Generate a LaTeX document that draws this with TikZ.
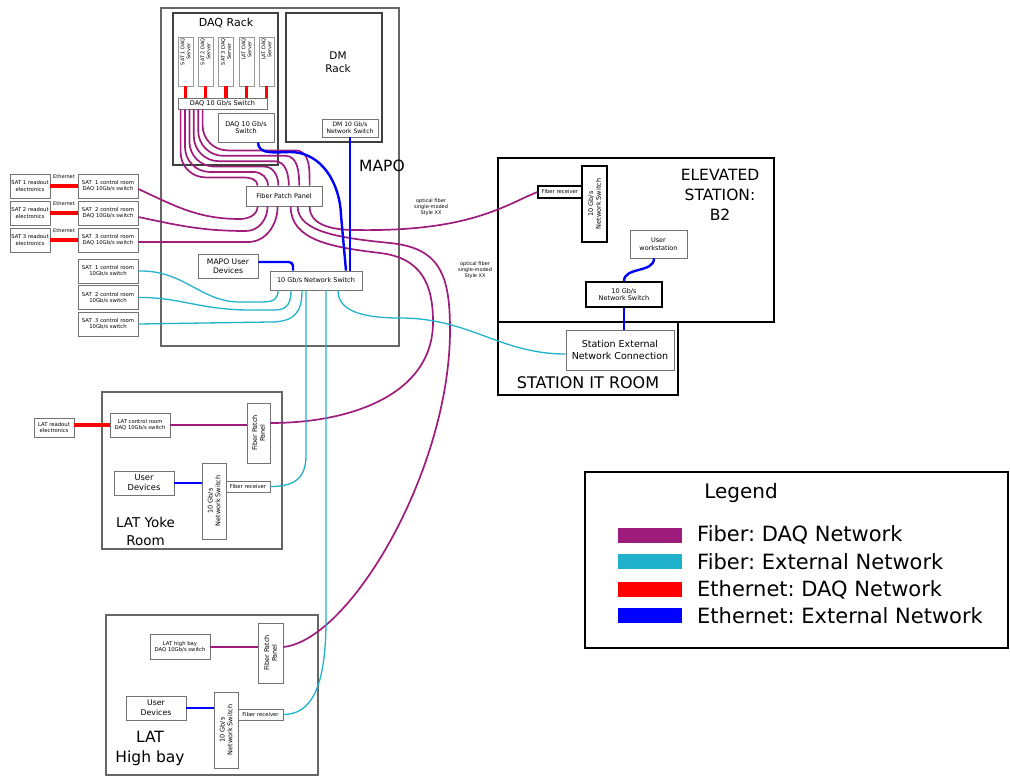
\documentclass[tikz,border=0pt]{standalone}
\usepackage{fontspec}
\setmainfont{DejaVu Sans}
\frenchspacing
\definecolor{fibdaqcol}{RGB}{158,28,124}
\definecolor{fibextcol}{RGB}{32,178,202}
\tikzset{
  room/.style={draw=black!60, line width=1.8pt},
  rack/.style={draw=black!75, line width=1.3pt},
  box/.style={draw=black!55, line width=0.8pt, fill=white, align=center, inner sep=0.5pt},
  kbox/.style={box, draw=black, line width=1.5pt},
  srv/.style={draw=black!40, line width=0.7pt, fill=white, minimum width=15, minimum height=49},
  fibdaq/.style={fibdaqcol, line width=1.7pt},
  fibext/.style={fibextcol, line width=1.3pt},
  ethdaq/.style={red, line width=3.2pt},
  ethext/.style={blue, line width=2.4pt},
  fxs/.style={font=\fontsize{5}{5.9}\selectfont},
  fs/.style={font=\fontsize{5.3}{6.4}\selectfont},
  fm/.style={font=\fontsize{6.5}{7.8}\selectfont},
}
\begin{document}
\begin{tikzpicture}[x=1pt, y=1pt]
  \useasboundingbox (0,0) rectangle (1010,-777);

  % MAPO -- racks and switches
  \draw[room] (161,-8) rectangle (399,-346);
  \draw[rack] (173,-13) rectangle (278,-165);
  \draw[rack] (286,-13) rectangle (382,-142);
  \node[font=\fontsize{11}{13}\selectfont] (daqrack) at (226,-23) {DAQ Rack};
  \node[font=\fontsize{10.5}{13.5}\selectfont, align=center] (dmrack) at (338,-62) {DM\\Rack};
  \node[font=\fontsize{15.5}{18}\selectfont] (mapo) at (382,-166) {MAPO};
  \node[box, fm, minimum width=89, minimum height=11] (daqsw) at (222.5,-103.5) {DAQ 10 Gb/s Switch};
  \node[box, fm, minimum width=56, minimum height=29] (daqsw2) at (246,-127.5) {DAQ 10 Gb/s\\Switch};
  \node[box, font=\fontsize{6}{7.3}\selectfont, minimum width=56, minimum height=18] (dmsw) at (350,-128) {DM 10 Gb/s\\Network Switch};
  \node[box, fm, minimum width=76, minimum height=20] (patch) at (284,-196) {Fiber Patch Panel};
  \node[box, font=\fontsize{7.6}{9.2}\selectfont, minimum width=60, minimum height=24] (mapoud) at (228,-266) {MAPO User\\Devices};
  \node[box, fm, minimum width=92, minimum height=19] (netsw) at (316,-280.5) {10 Gb/s Network Switch};
  \foreach \x/\n/\t in {185.5/1/SAT 1 DAQ, 205.5/2/SAT 2 DAQ, 226/3/SAT 3 DAQ, 246.5/4/LAT DAQ, 266.5/5/LAT DAQ}{
    \node[srv] (srv\n) at (\x,-61.5) {};
    \node[fxs, rotate=90, anchor=east, align=center, inner sep=0.5pt] at ([yshift=-1]srv\n.north) {\t\\Server};
    \draw[ethdaq] (srv\n.south) -- (srv\n.south |- daqsw.north);
  }

  % SAT control rooms
  \foreach \n/\y in {1/186, 2/213, 3/240}{
    \node[box, fs, minimum width=40, minimum height=24] (ro\n) at (30,-\y) {SAT \n\ readout\\electronics};
    \node[box, fs, minimum width=60, minimum height=24] (satd\n) at (108,-\y) {SAT~~\n\ control room\\DAQ 10Gb/s switch};
    \draw[ethdaq] (ro\n.east) -- node[above=5pt, fxs, text=black, inner sep=0.5pt] {Ethernet} (satd\n.west);
  }
  \foreach \n/\y in {1/271, 2/297.5, 3/324}{
    \node[box, fs, minimum width=60, minimum height=24] (sats\n) at (108,-\y) {SAT~~\n\ control room\\10Gb/s switch};
  }

  % Elevated station and station IT room
  \draw[line width=1.8pt] (498,-158) rectangle (774,-322);
  \draw[line width=1.8pt] (498,-322) rectangle (678,-395);
  \node[align=center, font=\fontsize{15.5}{20}\selectfont] (elev) at (720,-195) {ELEVATED\\STATION:\\B2};
  \node[font=\fontsize{16}{19}\selectfont] (itroom) at (588,-383) {STATION IT ROOM};
  \node[kbox, fm, rotate=90, minimum width=76, minimum height=25] (esw1) at (594.5,-204) {10 Gb/s\\Network Switch};
  \node[kbox, fs, line width=1.2pt, minimum width=44, minimum height=12] (frecv) at (560,-192) {Fiber receiver};
  \node[box, fm, minimum width=57, minimum height=28] (ws) at (658.5,-244) {User\\workstation};
  \node[kbox, fm, minimum width=76, minimum height=25] (esw2) at (624,-294.5) {10 Gb/s\\Network Switch};
  \node[box, font=\fontsize{9.5}{11.5}\selectfont, minimum width=108, minimum height=40] (stext) at (620,-350) {Station External\\Network Connection};
  \node[fxs, align=center] (optlbl1) at (431,-207) {optical fiber\\single-moded\\Style XX};
  \node[fxs, align=center] (optlbl2) at (475,-270) {optical fiber\\single-moded\\Style XX};

  % LAT yoke room
  \draw[room] (102,-392) rectangle (282,-549);
  \node[align=center, font=\fontsize{13.5}{18}\selectfont] (yokelbl) at (145.5,-531) {LAT Yoke\\Room};
  \node[box, fs, minimum width=40, minimum height=19] (latro) at (54,-427.5) {LAT readout\\electronics};
  \node[box, fs, minimum width=60, minimum height=24] (latd) at (140,-425) {LAT control room\\DAQ 10Gb/s switch};
  \node[box, fm, rotate=90, minimum width=60, minimum height=23] (ypatch) at (258.5,-433) {Fiber Patch\\Panel};
  \node[box, font=\fontsize{8.3}{10}\selectfont, minimum width=60, minimum height=24] (yud) at (144,-483) {User\\Devices};
  \node[box, fm, rotate=90, minimum width=76, minimum height=24] (ysw) at (214,-501) {10 Gb/s\\Network Switch};
  \node[box, fs, minimum width=44, minimum height=11] (yfr) at (248,-486.5) {Fiber receiver};

  % LAT high bay
  \draw[room] (106,-615) rectangle (318,-775);
  \node[align=center, font=\fontsize{15.5}{20}\selectfont] (hbaylbl) at (150,-748) {LAT\\High bay};
  \node[box, fs, minimum width=60, minimum height=25] (hbd) at (180,-647) {LAT high bay\\DAQ 10Gb/s switch};
  \node[box, fm, rotate=90, minimum width=60, minimum height=25] (hpatch) at (270.5,-653) {Fiber Patch\\Panel};
  \node[box, font=\fontsize{7.8}{9.6}\selectfont, minimum width=60, minimum height=24] (hud) at (156,-708) {User\\Devices};
  \node[box, fm, rotate=90, minimum width=76, minimum height=24] (hsw) at (226,-730) {10 Gb/s\\Network Switch};
  \node[box, fs, minimum width=45, minimum height=11] (hfr) at (260.5,-714.5) {Fiber receiver};

  % Fiber: DAQ network
  \foreach \i in {0,...,5}{
    \pgfmathsetmacro\sx{3+4.4*\i}
    \pgfmathsetmacro\ex{12+10.4*\i}
    \pgfmathsetmacro\dv{43-5.4*\i}
    \pgfmathsetmacro\dh{38+6*\i}
    \draw[fibdaq] ([xshift=\sx]daqsw.south west) -- ++(0,-\dv)
      to[out=-90,in=180] ++(25,-25) -- ++(\dh,0)
      to[out=0,in=90] ([xshift=\ex]patch.north west);
  }
  \draw[fibdaq] ([yshift=-3]satd1.east) to[out=-25,in=180] (240,-219) to[out=0,in=-90] ([xshift=12]patch.south west);
  \draw[fibdaq] ([yshift=-4]satd2.east) to[out=-12,in=180] (246,-231) to[out=0,in=-90] ([xshift=22]patch.south west);
  \draw[fibdaq] ([yshift=-2]satd3.east) -- (248,-242) to[out=0,in=-90] ([xshift=32]patch.south west);
  \draw[fibdaq] ([xshift=64]patch.south west) to[out=-90,in=180] (355,-230)
    .. controls (470,-232) and (505,-205) .. (frecv.west);
  \draw[fibdaq] ([xshift=45]patch.south west) .. controls (291,-240) and (330,-247) .. (380,-253)
    .. controls (422,-258) and (433,-285) .. (433,-322)
    .. controls (433,-395) and (350,-423) .. ([yshift=10]ypatch.south);
  \draw[fibdaq] ([xshift=52]patch.south west) .. controls (298,-232) and (340,-238) .. (390,-243)
    .. controls (440,-248) and (450,-275) .. (450,-330)
    .. controls (450,-470) and (350,-640) .. ([yshift=6]hpatch.south);
  \draw[fibdaq] (latd.east) -- (latd.east -| ypatch.north);
  \draw[fibdaq] (hbd.east) -- ([yshift=6]hpatch.north);

  % Fiber: external network
  \draw[fibext] (sats1.east) .. controls (185,-270) and (200,-302) .. (240,-302) -- (262,-302)
    .. controls (275,-302) and (278,-298) .. ([xshift=-38]netsw.south);
  \draw[fibext] (sats2.east) .. controls (180,-297) and (200,-310) .. (250,-310) -- (275,-310)
    .. controls (288,-310) and (291,-302) .. ([xshift=-25]netsw.south);
  \draw[fibext] (sats3.east) -- (270,-322) .. controls (295,-322) and (302,-312) .. ([xshift=-14]netsw.south);
  \draw[fibext] ([xshift=-10]netsw.south) -- (306,-455) .. controls (306,-478) and (295,-486.5) .. (yfr.east);
  \draw[fibext] ([xshift=10]netsw.south) -- (326,-620) .. controls (326,-690) and (310,-714.5) .. (hfr.east);
  \draw[fibext] ([xshift=22]netsw.south) .. controls (338,-310) and (360,-318) .. (400,-318)
    .. controls (470,-318) and (500,-354) .. ([yshift=-4]stext.west);

  % Ethernet
  \draw[ethext] (dmsw.south) -- (dmsw.south |- netsw.north);
  \draw[ethext] ([xshift=12]daqsw2.south) to[out=-90,in=180] (290,-152) to[out=0,in=92] (341,-215) -- ([xshift=30]netsw.north);
  \draw[ethext, rounded corners=4pt] ([yshift=4]mapoud.east) -| ([xshift=-23]netsw.north);
  \draw[ethext] ([xshift=-4.5]ws.south) to[out=-90,in=90] (esw2.north);
  \draw[ethext] (esw2.south) -- (esw2.south |- stext.north);
  \draw[ethext] (yud.east) -- (yud.east -| ysw.north);
  \draw[ethext] (hud.east) -- (hud.east -| hsw.north);
  \draw[ethdaq] (latd.west -| latro.east) -- (latd.west);

  % Legend
  \draw[line width=2.5pt] (585,-472) rectangle (1008,-648);
  \node[font=\fontsize{20}{24}\selectfont] (legtitle) at (741,-493) {Legend};
  \foreach \y/\c/\t in {535/fibdaqcol/Fiber: DAQ Network, 561.5/fibextcol/Fiber: External Network, 589.5/red/Ethernet: DAQ Network, 615.5/blue/Ethernet: External Network}{
    \fill[\c] (618,-\y+7.5) rectangle (682,-\y-7.5);
    \node[anchor=west, inner sep=0pt, font=\fontsize{21}{25}\selectfont] at (697,-\y) {\t};
  }
\end{tikzpicture}
\end{document}
